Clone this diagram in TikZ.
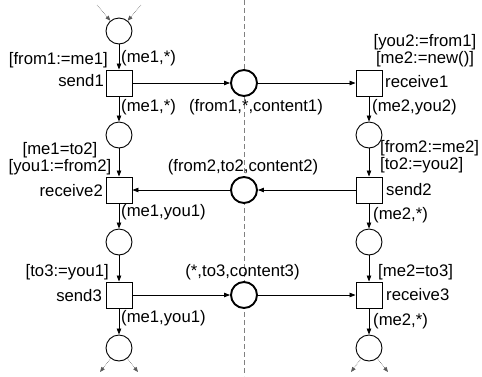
\documentclass[tikz,border=0pt]{standalone}
\usepackage{fontspec}
\setmainfont{Liberation Sans}
\usetikzlibrary{arrows.meta,positioning}

\tikzset{
  place/.style={draw, circle, fill=white, line width=0.9pt, minimum size=26pt, inner sep=0pt},
  chan/.style={place, line width=1.9pt},
  trans/.style={draw, rectangle, fill=white, line width=0.9pt, minimum size=26pt, inner sep=0pt},
  arc/.style={-{Triangle[length=6pt,width=4.5pt]}, line width=0.8pt},
  loose/.style={-{Triangle[length=5pt,width=4pt]}, densely dotted, gray!70!black, line width=0.6pt},
  lbl/.style={inner sep=0pt, font=\fontsize{16.7}{17}\selectfont, text height=12pt, text depth=3.5pt},
  guard/.style={inner sep=0pt, font=\fontsize{16.7}{17}\selectfont}
}

\begin{document}
\begin{tikzpicture}[x=1pt, y=-1pt]
    \useasboundingbox (0,0) rectangle (482,376);
    % dashed border between the two sides
    \coordinate (cutTop) at (244,0);
    \coordinate (cutBot) at (244,376);
    \draw[gray, dash pattern=on 5pt off 3pt, line width=0.9pt] (cutTop) -- (cutBot);

    % places of the two columns
    \foreach \i/\y in {0/31,1/135,2/242,3/348} {
        \node[place] (pL\i) at (119,\y) {};
    }
    \foreach \i/\y in {1/135,2/242,3/348} {
        \node[place] (pR\i) at (369,\y) {};
    }
    % channel places
    \foreach \i/\y in {1/83,2/190,3/295} {
        \node[chan] (ch\i) at (244,\y) {};
    }

    % transitions
    \node[trans] (send1) at (119,83) {};
    \node[trans] (receive2) at (119,190) {};
    \node[trans] (send3) at (119,295) {};
    \node[trans] (receive1) at (369,83) {};
    \node[trans] (send2) at (369,190) {};
    \node[trans] (receive3) at (369,295) {};

    % arcs of the left side
    \draw[arc] (pL0) -- (send1);
    \draw[arc] (send1) -- (pL1);
    \draw[arc] (pL1) -- (receive2);
    \draw[arc] (receive2) -- (pL2);
    \draw[arc] (pL2) -- (send3);
    \draw[arc] (send3) -- (pL3);
    % arcs of the right side
    \draw[arc] (receive1) -- (pR1);
    \draw[arc] (pR1) -- (send2);
    \draw[arc] (send2) -- (pR2);
    \draw[arc] (pR2) -- (receive3);
    \draw[arc] (receive3) -- (pR3);
    % messages
    \draw[arc] (send1) -- (ch1);
    \draw[arc] (ch1) -- (receive1);
    \draw[arc] (send2) -- (ch2);
    \draw[arc] (ch2) -- (receive2);
    \draw[arc] (send3) -- (ch3);
    \draw[arc] (ch3) -- (receive3);

    % loose ends
    \coordinate (inA) at (97,5);
    \coordinate (inB) at (141,5);
    \coordinate (outLA) at (100,372);
    \coordinate (outLB) at (138,372);
    \coordinate (outRA) at (351,372);
    \coordinate (outRB) at (388,372);
    \draw[loose] (inA) -- (pL0);
    \draw[loose] (inB) -- (pL0);
    \draw[loose] (pL3) -- (outLA);
    \draw[loose] (pL3) -- (outLB);
    \draw[loose] (pR3) -- (outRA);
    \draw[loose] (pR3) -- (outRB);

    % labels, left side
    \node[lbl, anchor=east] (gSend1) at (108,60) {[from1:=me1]};
    \node[lbl, anchor=west] (aIn1) at (121,58) {(me1,*)};
    \node[lbl, anchor=east] (nSend1) at (104,82) {send1};
    \node[lbl, anchor=west] (aOut1) at (121,107) {(me1,*)};
    \node[guard, align=center] (gReceive2) at (60,158.8) {[me1=to2]\\\relax[you1:=from2]};
    \node[lbl, anchor=east] (nReceive2) at (103,192) {receive2};
    \node[lbl, anchor=west] (aOut2) at (121,212) {(me1,you1)};
    \node[lbl, anchor=east] (gSend3) at (109,272) {[to3:=you1]};
    \node[lbl, anchor=east] (nSend3) at (102,297) {send3};
    \node[lbl, anchor=west] (aOut3) at (121,318) {(me1,you1)};

    % labels, channels
    \node[lbl] (mCh1) at (256,107) {(from1,*,content1)};
    \node[lbl] (mCh2) at (243,167) {(from2,to2,content2)};
    \node[lbl] (mCh3) at (242.5,272) {(*,to3,content3)};

    % labels, right side
    \node[guard, align=center] (gReceive1) at (425,50.8) {[you2:=from1]\\\relax[me2:=new()]};
    \node[lbl, anchor=west] (nReceive1) at (385,83) {receive1};
    \node[lbl, anchor=west] (aOutR1) at (372,107) {(me2,you2)};
    \node[guard, align=left, anchor=west] (gSend2) at (380,156.8) {[from2:=me2]\\\relax[to2:=you2]};
    \node[lbl, anchor=west] (nSend2) at (386,191) {send2};
    \node[lbl, anchor=west] (aOutR2) at (373,215) {(me2,*)};
    \node[lbl, anchor=west] (gReceive3) at (378,272) {[me2=to3]};
    \node[lbl, anchor=west] (nReceive3) at (386,296) {receive3};
    \node[lbl, anchor=west] (aOutR3) at (373,321) {(me2,*)};
\end{tikzpicture}
\end{document}
